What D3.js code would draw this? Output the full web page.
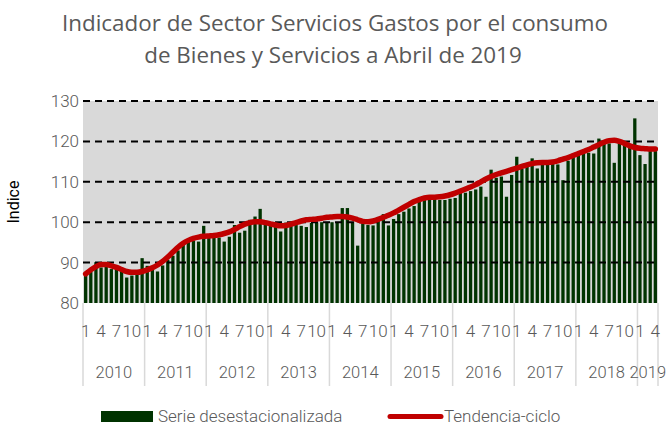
<!DOCTYPE html>
<html><head><meta charset="utf-8">
<script src="https://cdn.jsdelivr.net/npm/d3@7"></script>
<style>body{margin:0;background:#fff}svg{display:block}</style>
</head><body>
<svg id="c" width="668" height="426"></svg>
<script>
const years = ["2010","2011","2012","2013","2014","2015","2016","2017","2018","2019"];
const monthTickLabels = ["1","4","7","10"];
const yTicks = [80,90,100,110,120,130];
const serie = [
 86.8,87.7,90.1,88.8,89.3,88.4,88.4,88.6,86.3,86.8,87.2,91.1,
 89.2,88.3,87.8,89.3,90.7,91.7,93.0,94.8,95.2,95.4,95.2,99.1,
 96.4,96.6,96.2,95.2,96.4,99.3,97.4,97.9,100.6,101.4,103.3,100.3,
 99.5,98.9,97.7,99.9,100.0,99.3,99.1,98.8,99.8,99.9,100.0,99.8,
 100.0,100.0,103.5,103.5,100.0,94.2,99.7,99.3,99.2,101.3,102.0,99.2,
 100.8,102.0,102.6,103.4,104.0,105.0,105.6,106.3,106.1,105.5,105.5,105.8,
 106.0,107.6,107.3,107.7,108.1,108.8,106.3,113.0,111.0,111.3,106.3,111.7,
 116.2,113.2,113.7,115.8,113.3,114.7,115.4,115.4,114.3,110.4,115.2,116.2,
 116.8,117.4,117.2,117.0,120.7,119.5,119.5,114.7,119.7,119.3,118.5,125.7,
 116.6,114.4,117.6,117.6
];
const tendencia = [
 87.2,88.2,89.0,89.5,89.5,89.2,88.8,88.3,87.8,87.6,87.6,87.8,
 88.2,88.7,89.4,90.3,91.4,92.6,93.8,94.8,95.5,96.0,96.3,96.5,
 96.6,96.7,96.9,97.2,97.6,98.2,98.9,99.5,99.9,100.1,100.1,99.9,
 99.6,99.3,99.1,99.2,99.5,99.9,100.3,100.6,100.7,100.8,101.0,101.2,
 101.3,101.4,101.4,101.3,101.0,100.6,100.2,100.1,100.3,100.7,101.2,101.7,
 102.3,103.0,103.7,104.4,105.1,105.6,106.0,106.2,106.2,106.3,106.5,106.8,
 107.2,107.7,108.2,108.7,109.3,110.0,110.7,111.3,111.8,112.2,112.6,113.0,
 113.4,113.8,114.2,114.5,114.7,114.8,114.8,114.9,115.2,115.6,116.0,116.5,
 117.0,117.5,118.0,118.6,119.2,119.8,120.2,120.3,120.0,119.5,118.9,118.5,
 118.3,118.2,118.1,118.1
];

const svg = d3.select("#c");
const L = 83, R = 658, T = 101, B = 303;
const grey = "#595959";
const font = "'Roboto',sans-serif";

const idx = d3.range(serie.length);
const x = d3.scaleBand().domain(idx).range([L, R]).paddingInner(0.36).paddingOuter(0.2);
const y = d3.scaleLinear().domain([80,130]).range([B, T]);
const monthW = (R - L) / serie.length;

// title
const title = svg.append("g").attr("fill", grey).attr("font-family", "'Open Sans',sans-serif").attr("font-size", 22.4).attr("text-anchor","middle");
title.append("text").attr("x", 335).attr("y", 31).text("Indicador de Sector Servicios Gastos por el consumo");
title.append("text").attr("x", 333).attr("y", 63).text("de Bienes y Servicios a Abril de 2019");

// plot bg
svg.append("rect").attr("x", L).attr("y", T).attr("width", R - L).attr("height", B - T).attr("fill", "#d9d9d9");

// bars
svg.append("g").selectAll("rect").data(serie).join("rect")
  .attr("x", (d,i) => x(i)).attr("width", x.bandwidth())
  .attr("y", d => y(d)).attr("height", d => B - y(d))
  .attr("fill", "#003300");

// gridlines
svg.append("g").selectAll("line").data(yTicks.filter(t => t > 80)).join("line")
  .attr("x1", L).attr("x2", R).attr("y1", d => y(d)).attr("y2", d => y(d))
  .attr("stroke", "#000").attr("stroke-width", 2).attr("stroke-dasharray", "7,5");

// trend
const line = d3.line().x((d,i) => x(i) + x.bandwidth()/2).y(d => y(d)).curve(d3.curveMonotoneX);
svg.append("path").datum(tendencia).attr("d", line).attr("fill","none")
  .attr("stroke", "#c00000").attr("stroke-width", 5.5).attr("stroke-linecap","round");

// y axis labels
const yAxis = d3.axisLeft(y).tickValues(yTicks).tickSize(0).tickPadding(4);
const gy = svg.append("g").attr("transform", `translate(${L},0)`).call(yAxis);
gy.select(".domain").remove();
gy.selectAll("text").attr("fill", grey).attr("font-family", font).attr("font-weight", 300).attr("font-size", 17);

svg.append("text").attr("transform", "translate(19,202) rotate(-90)").attr("text-anchor","middle")
  .attr("fill", "#000").attr("font-family", font).attr("font-size", 16).text("Indice");

// x axis: separators
const yearStarts = years.map((yr,k) => k*12);
const sepX = yearStarts.map(s => L + s*monthW).concat([R]);
svg.append("g").selectAll("line").data(sepX).join("line")
  .attr("x1", d => d).attr("x2", d => d).attr("y1", B).attr("y2", 386)
  .attr("stroke", "#d9d9d9").attr("stroke-width", 1.5);

// month labels
const mg = svg.append("g").attr("fill", grey).attr("font-family", font).attr("font-weight", 300).attr("font-size", 17).attr("text-anchor","middle");
idx.forEach(i => {
  const m = i % 12;
  if (m % 3 === 0) {
    mg.append("text").attr("x", x(i) + x.bandwidth()/2).attr("y", 337).text(monthTickLabels[m/3]);
  }
});
// year labels
svg.append("g").selectAll("text").data(years).join("text")
  .attr("x", (d,k) => { const s = k*12, e = Math.min(s+12, serie.length); return L + (s+e)/2*monthW; })
  .attr("y", 378).attr("text-anchor","middle").attr("fill", grey)
  .attr("font-family", font).attr("font-weight", 300).attr("font-size", 16.5).text(d => d);

// legend
svg.append("rect").attr("x", 101).attr("y", 411).attr("width", 52).attr("height", 11).attr("fill", "#003300");
svg.append("text").attr("x", 158).attr("y", 422).attr("fill", grey).attr("font-family", font).attr("font-weight", 300).attr("font-size", 17).text("Serie desestacionalizada");
svg.append("line").attr("x1", 390).attr("x2", 441).attr("y1", 416.5).attr("y2", 416.5).attr("stroke", "#c00000").attr("stroke-width", 5).attr("stroke-linecap","round");
svg.append("text").attr("x", 444).attr("y", 422).attr("fill", grey).attr("font-family", font).attr("font-weight", 300).attr("font-size", 17).text("Tendencia-ciclo");
</script>
</body></html>
